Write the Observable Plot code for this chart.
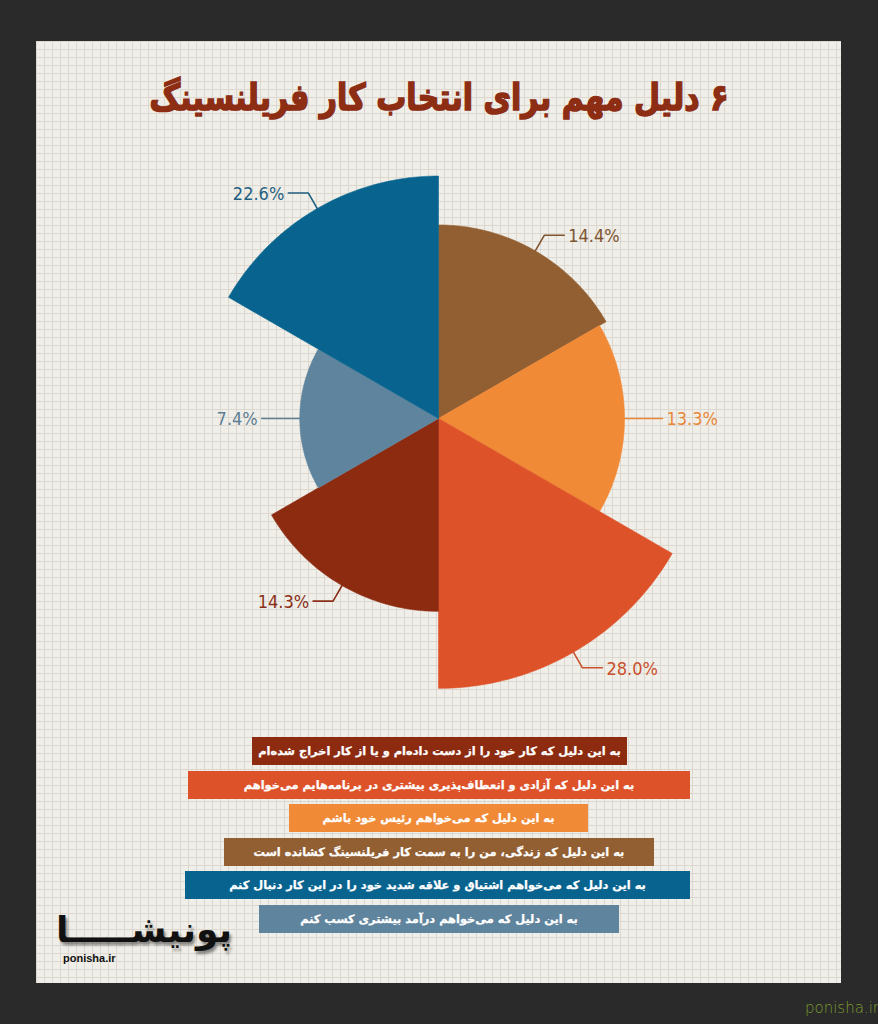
<!DOCTYPE html>
<html>
<head>
<meta charset="utf-8">
<script src="https://cdn.jsdelivr.net/npm/d3@7"></script>
<script src="https://cdn.jsdelivr.net/npm/@observablehq/plot@0.6"></script>
<style>
  html, body { margin: 0; padding: 0; }
  body { width: 878px; height: 1024px; background: #2a2a2a; position: relative; overflow: hidden; }
  #panel {
    position: absolute; left: 36px; top: 41px; width: 805px; height: 942px;
    background-color: #f0eee8;
    background-image:
      linear-gradient(#dcd8d0 1px, transparent 1px),
      linear-gradient(90deg, #dcd8d0 1px, transparent 1px);
    background-size: 8px 8px;
  }
  #title {
    position: absolute; left: 0; top: 78px; width: 878px; text-align: center;
    direction: rtl; font-family: "DejaVu Sans", sans-serif; font-weight: bold;
    font-size: 30px; line-height: 40px; color: #8c2d14;
    -webkit-text-stroke: 1.3px #8c2d14;
    transform: scaleY(1.22);
  }
  #chart { position: absolute; left: 0; top: 150px; }
  #legend { position: absolute; left: 0; top: 737px; width: 878px; }
  .bar {
    position: absolute; height: 28px; line-height: 28px; color: #fff; text-align: center;
    direction: rtl; font-family: "DejaVu Sans", sans-serif; font-weight: bold; font-size: 11.4px;
    box-sizing: border-box; white-space: nowrap; -webkit-text-stroke: 0.25px #fff;
  }
  #logo {
    position: absolute; right: 646px; top: 908px; direction: rtl;
    font-family: "DejaVu Sans", sans-serif; font-weight: bold; font-size: 36px; line-height: 44px; color: #111;
    text-shadow: 2px 3px 3px rgba(0,0,0,0.45);
  }
  #logosub {
    position: absolute; left: 63px; top: 952px; font-family: "Liberation Sans", Arial, sans-serif;
    font-weight: bold; font-size: 11px; color: #111;
  }
  #wm {
    position: absolute; left: 805px; top: 999px; font-family: "DejaVu Sans", sans-serif;
    font-size: 15px; color: #7d9c2c; font-weight: 300;
  }
</style>
</head>
<body>
<div id="panel"></div>
<div id="title">۶ دلیل مهم برای انتخاب کار فریلنسینگ</div>
<div id="chart"></div>
<div id="legend"></div>
<div id="logo">پونیشـــــا</div>
<div id="logosub">ponisha.ir</div>
<div id="wm">ponisha.ir</div>
<script>
// Slices, clockwise from 12 o'clock
const reasons = [
  "به این دلیل که زندگی، من را به سمت کار فریلنسینگ کشانده است",
  "به این دلیل که می‌خواهم رئیس خود باشم",
  "به این دلیل که آزادی و انعطاف‌پذیری بیشتری در برنامه‌هایم می‌خواهم",
  "به این دلیل که کار خود را از دست داده‌ام و یا از کار اخراج شده‌ام",
  "به این دلیل که می‌خواهم درآمد بیشتری کسب کنم",
  "به این دلیل که می‌خواهم اشتیاق و علاقه شدید خود را در این کار دنبال کنم"
];
const values = [14.4, 13.3, 28.0, 14.3, 7.4, 22.6];
const valueLabels = ["14.4%", "13.3%", "28.0%", "14.3%", "7.4%", "22.6%"];
const palette = ["#925f33", "#f18a36", "#de522a", "#8d2b11", "#5f849e", "#08648f"];
const labelColors = ["#7e5430", "#e8863a", "#c9512c", "#8a2f17", "#5d7f95", "#1f5f80"];
const legendOrder = [3, 2, 1, 0, 5, 4];

const W = 878, H = 560;
const cx = 438, cy = 268;        // centre in svg pixels
const k = 51;                    // pixels per sqrt(percent)
const px = 1 / k;                // one pixel in data units

const n = values.length;
const step = 2 * Math.PI / n;

// sector polygons: radius = sqrt(value) (area-proportional rose)
const sectors = [];
values.forEach((v, i) => {
  const r = Math.sqrt(v);
  const a0 = i * step, a1 = (i + 1) * step;
  sectors.push({cat: reasons[i], x: 0, y: 0});
  const m = 60;
  for (let j = 0; j <= m; j++) {
    const a = a0 + (a1 - a0) * j / m;
    sectors.push({cat: reasons[i], x: r * Math.sin(a), y: r * Math.cos(a)});
  }
  sectors.push({cat: reasons[i], x: 0, y: 0});
});

// leader lines & labels
const leaders = [], labels = [];
values.forEach((v, i) => {
  const r = Math.sqrt(v);
  const a = (i + 0.5) * step;
  const sx = Math.sin(a), sy = Math.cos(a);
  const side = sx >= 0 ? 1 : -1;
  const p0 = [r * sx, r * sy];
  const p1 = [(r + 18 * px) * sx, (r + 18 * px) * sy];
  const p2 = [p1[0] + side * 20 * px, p1[1]];
  [p0, p1, p2].forEach(p => leaders.push({id: i, x: p[0], y: p[1], c: labelColors[i]}));
  labels.push({x: p2[0] + side * 4 * px, y: p2[1], text: valueLabels[i], anchor: side > 0 ? "start" : "end", c: labelColors[i]});
});

const labelFont = "'DejaVu Sans Condensed', 'Liberation Sans Narrow', sans-serif";
const chart = Plot.plot({
  width: W, height: H,
  margin: 0,
  style: {background: "transparent", overflow: "visible"},
  x: {domain: [-cx / k, (W - cx) / k], range: [0, W], axis: null},
  y: {domain: [-(H - cy) / k, cy / k], range: [H, 0], axis: null},
  color: {domain: reasons, range: palette},
  marks: [
    Plot.line(sectors, {x: "x", y: "y", z: "cat", fill: "cat", stroke: "cat", strokeWidth: 0.6, curve: "linear"}),
    Plot.line(leaders, {x: "x", y: "y", z: "id", stroke: "c", strokeWidth: 1.6}),
    Plot.text(labels.filter(d => d.anchor === "start"), {x: "x", y: "y", text: "text", fill: "c", textAnchor: "start",
      fontSize: 18, fontFamily: labelFont, dy: 1}),
    Plot.text(labels.filter(d => d.anchor === "end"), {x: "x", y: "y", text: "text", fill: "c", textAnchor: "end",
      fontSize: 18, fontFamily: labelFont, dy: 1})
  ]
});
document.getElementById("chart").appendChild(chart);

// legend bars (HTML, colours from the plot's color scale)
const color = chart.scale("color");
const barBoxes = [[252, 375], [188, 502], [289, 299], [224, 430], [185, 505], [259, 360]];
const legend = document.getElementById("legend");
legendOrder.forEach((idx, row) => {
  const d = document.createElement("div");
  d.className = "bar";
  d.textContent = reasons[idx];
  d.style.background = color.apply(reasons[idx]);
  d.style.left = barBoxes[row][0] + "px";
  d.style.width = barBoxes[row][1] + "px";
  d.style.top = (row * 33.6) + "px";
  legend.appendChild(d);
});
</script>
</body>
</html>
